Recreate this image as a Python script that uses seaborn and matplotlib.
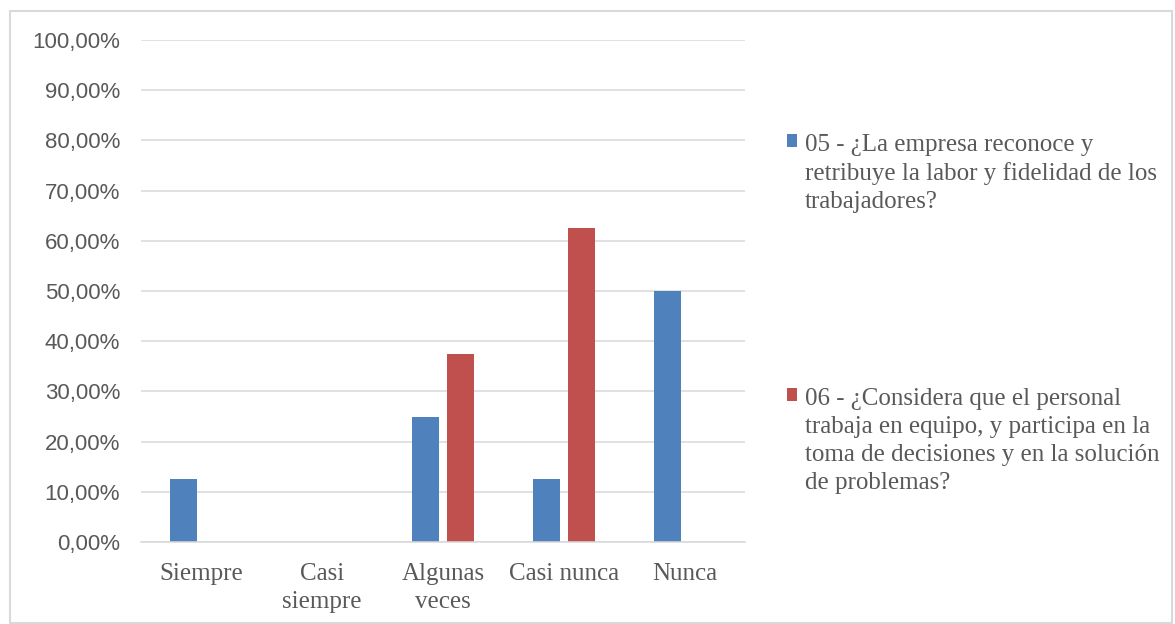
import matplotlib
matplotlib.use("Agg")
import matplotlib.pyplot as plt
import seaborn as sns
import pandas as pd
from matplotlib.patches import Rectangle
from matplotlib.ticker import FuncFormatter, MultipleLocator

categories = ["Siempre", "Casi\nsiempre", "Algunas\nveces", "Casi nunca", "Nunca"]
series_names = [
    "05 - ¿La empresa reconoce y\nretribuye la labor y fidelidad de los\ntrabajadores?",
    "06 - ¿Considera que el personal\ntrabaja en equipo, y participa en la\ntoma de decisiones y en la solución\nde problemas?",
]
values_05 = [0.125, 0.0, 0.25, 0.125, 0.5]
values_06 = [0.0, 0.0, 0.375, 0.625, 0.0]
colors = ["#4F81BD", "#C0504D"]

df = pd.DataFrame({
    "cat": categories * 2,
    "serie": [series_names[0]] * 5 + [series_names[1]] * 5,
    "val": values_05 + values_06,
})

sns.set_theme(style="white")
plt.rcParams['font.family'] = ['Liberation Serif', 'DejaVu Serif']

fig = plt.figure(figsize=(11.75, 6.24), dpi=100)
ax = fig.add_axes([141/1175, 1-542/624, (745-141)/1175, (542-40)/624])

sns.barplot(data=df, x="cat", y="val", hue="serie", order=categories,
            hue_order=series_names, palette=colors, width=0.58, gap=0.23,
            ax=ax, saturation=1, edgecolor="none", legend=True)

ax.set_ylim(0, 1)
ax.set_xlim(-0.5, 4.5)
ax.yaxis.set_major_locator(MultipleLocator(0.1))
ax.yaxis.set_major_formatter(FuncFormatter(lambda v, p: f"{v*100:.2f}%".replace(".", ",")))
ax.grid(axis="y", color="#D9D9D9", linewidth=1.1)
ax.set_axisbelow(True)
for s in ["top", "right", "left"]:
    ax.spines[s].set_visible(False)
ax.spines["bottom"].set_color("#D9D9D9")
ax.spines["bottom"].set_linewidth(1.1)
ax.set_xlabel("")
ax.set_ylabel("")
ax.tick_params(axis="both", length=0)
ax.tick_params(axis="x", pad=15, labelsize=18, labelcolor="#595959")
ax.tick_params(axis="y", pad=15, labelsize=16, labelcolor="#595959")
for t in ax.get_yticklabels():
    t.set_family(["Liberation Sans", "DejaVu Sans"])
for t in ax.get_xticklabels():
    t.set_linespacing(1.35)

handles, labels = ax.get_legend_handles_labels()
ax.get_legend().remove()
leg = fig.legend(handles, labels, loc="upper left", bbox_to_anchor=(787/1175, 1-134/624),
                 frameon=False, fontsize=18, handlelength=0.42, handleheight=0.42,
                 handletextpad=0.3, labelspacing=7.0, borderpad=0, borderaxespad=0)
for t in leg.get_texts():
    t.set_color("#595959")
    t.set_linespacing(1.35)
for col in leg._legend_handle_box.get_children():
    for row in col.get_children():
        row.align = "top"

fig.patches.append(Rectangle((10/1175, 0.002), 1162/1175, 1-12/624, transform=fig.transFigure,
                             fill=False, edgecolor="#D9D9D9", linewidth=1.5))

fig.savefig("out.png", dpi=100)
